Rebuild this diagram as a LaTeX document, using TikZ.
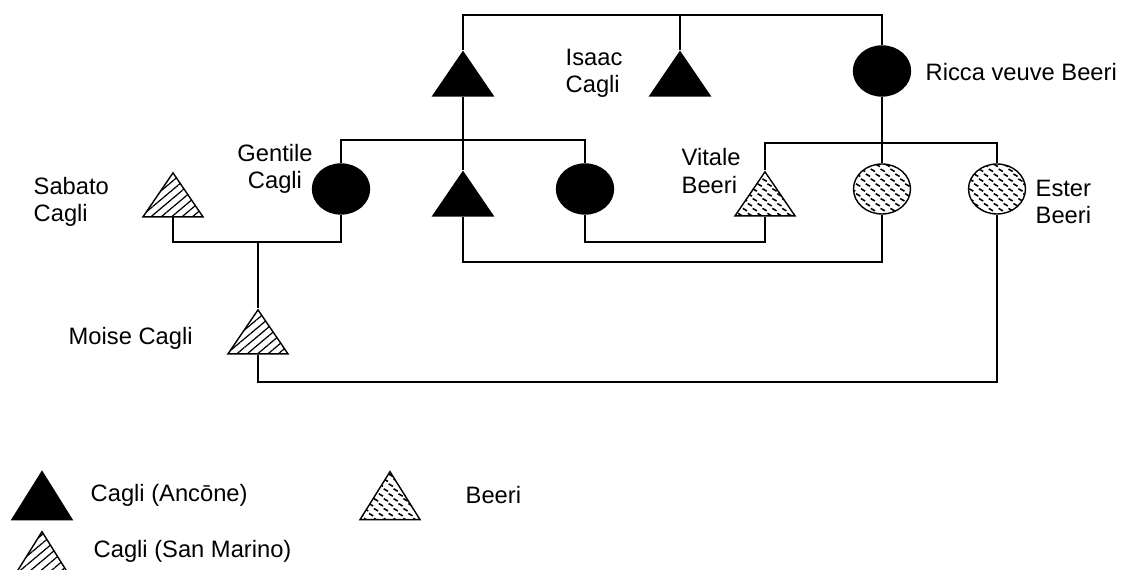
\documentclass[tikz,border=0pt]{standalone}
\usepackage{fontspec}
\setmainfont{Liberation Sans}
\usetikzlibrary{shapes.geometric,patterns,patterns.meta}

\pgfdeclarepatternformonly{beeri dashes}{\pgfqpoint{-1pt}{-1pt}}{\pgfqpoint{7pt}{7pt}}{\pgfqpoint{5.6pt}{5.6pt}}{%
  \pgfsetlinewidth{0.9pt}
  \pgfpathmoveto{\pgfqpoint{0pt}{1.4pt}}\pgfpathlineto{\pgfqpoint{2.4pt}{0pt}}
  \pgfpathmoveto{\pgfqpoint{2.8pt}{4.2pt}}\pgfpathlineto{\pgfqpoint{5.2pt}{2.8pt}}
  \pgfusepath{stroke}}

\begin{document}
\begin{tikzpicture}[x=0.02cm,y=-0.02cm,line width=0.8pt,
  font=\fontsize{13.5}{15.5}\selectfont,
  male/.style={draw,isosceles triangle,shape border rotate=90,isosceles triangle stretches,
    minimum width=1.2cm,minimum height=0.88cm,inner sep=0pt},
  female/.style={draw,ellipse,minimum width=1.14cm,minimum height=1.0cm,inner sep=0pt},
  ancone/.style={fill=black},
  sanmarino/.style={pattern={Lines[angle=40,distance=3.8pt,line width=0.7pt]}},
  beeri/.style={pattern=beeri dashes},
  kin/.style={anchor=west,align=left,inner sep=0pt}]
\useasboundingbox (0,0) rectangle (1137,570);
% first generation
\node[male,ancone] (cagliA) at (463,80) {};
\node[male,ancone] (isaac) at (680,80) {};
\node[female,ancone] (ricca) at (882,71) {};
% second generation
\node[male,sanmarino] (sabato) at (173,201) {};
\node[female,ancone] (gentile) at (341,189) {};
\node[male,ancone] (cagliB) at (463,200) {};
\node[female,ancone] (cagliC) at (585,189) {};
\node[male,beeri] (vitale) at (765,200) {};
\node[female,beeri] (beeriA) at (882,189) {};
\node[female,beeri] (ester) at (997,189) {};
% third generation
\node[male,sanmarino] (moise) at (258,338) {};
% bars
\coordinate (top) at (0,15);
\coordinate (barA) at (0,140);
\coordinate (barB) at (0,143);
\coordinate (lowA) at (0,242);
\coordinate (lowB) at (0,262);
\coordinate (lowC) at (0,382);
\draw (cagliA.north) -- (cagliA.north |- top) -- (ricca.north |- top) -- (ricca.north);
\draw (isaac.north) -- (isaac.north |- top);
\draw (cagliA.south) -- (cagliB.north);
\draw (gentile.north) -- (gentile.north |- barA) -- (cagliC.north |- barA) -- (cagliC.north);
\draw (ricca.south) -- (beeriA.north);
\draw (vitale.north) -- (vitale.north |- barB) -- (ester.north |- barB) -- (ester.north);
\draw (cagliC.south) -- (cagliC.south |- lowA) -- (vitale.south |- lowA) -- (vitale.south);
\draw (cagliB.south) -- (cagliB.south |- lowB) -- (beeriA.south |- lowB) -- (beeriA.south);
\draw (sabato.south) -- (sabato.south |- lowA) -- (gentile.south |- lowA) -- (gentile.south);
\draw (moise.north |- lowA) -- (moise.north);
\draw (moise.south) -- (moise.south |- lowC) -- (ester.south |- lowC) -- (ester.south);
% names
\node[kin] (isaacL) at (565,73) {Isaac\\Cagli};
\node[kin] (riccaL) at (925,72) {Ricca veuve Beeri};
\node[kin,align=center,anchor=center] (gentileL) at (275,169) {Gentile\\Cagli};
\node[kin] (vitaleL) at (681,171) {Vitale\\Beeri};
\node[kin] (sabatoL) at (33,202) {Sabato\\Cagli};
\node[kin] (esterL) at (1035,202) {Ester\\Beeri};
\node[kin] (moiseL) at (68,338) {Moise Cagli};
% legend
\node[male,ancone,minimum height=0.96cm] (keyA) at (42,503) {};
\node[kin] (keyAL) at (90,495) {Cagli (Ancōne)};
\node[male,beeri,minimum height=0.96cm] (keyB) at (390,503) {};
\node[kin] (keyBL) at (465,495) {Beeri};
\node[male,sanmarino,minimum height=0.96cm] (keyC) at (42,563) {};
\node[kin] (keyCL) at (93,551) {Cagli (San Marino)};
\end{tikzpicture}
\end{document}
